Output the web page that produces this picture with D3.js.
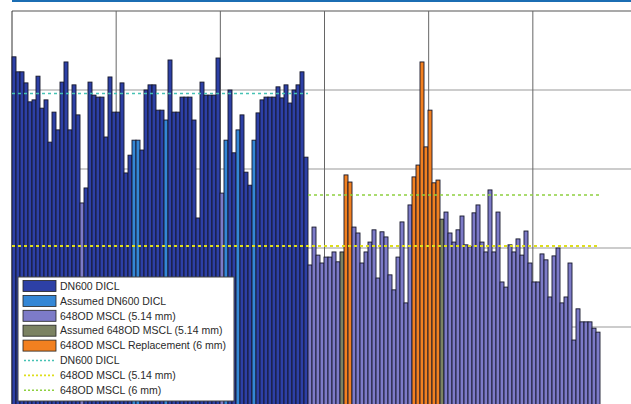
<!DOCTYPE html>
<html>
<head>
<meta charset="utf-8">
<script src="https://cdn.jsdelivr.net/npm/d3@7"></script>
<style>
  body { margin: 0; background: #fff; }
  svg { display: block; }
</style>
</head>
<body>
<div class="chart"></div>
<script>
// bar heights (one per pipe section)
const values = [
  88.4, 84.6, 84.6, 81.8, 77.0, 77.5, 83.5, 75.4, 77.5, 66.8,
  74.4, 69.9, 82.0, 87.1, 69.9, 81.3, 73.7, 51.4, 55.2, 82.0,
  78.7, 78.2, 78.2, 68.1, 83.3, 74.4, 74.4, 81.8, 59.0, 63.5,
  67.3, 67.3, 64.8, 80.0, 81.3, 81.3, 74.9, 74.9, 72.4, 87.6,
  74.4, 74.4, 78.2, 78.2, 78.2, 72.4, 47.6, 82.0, 78.7, 78.7,
  78.7, 88.1, 53.9, 67.3, 80.0, 64.1, 69.9, 73.7, 59.2, 55.9,
  67.3, 74.2, 77.5, 78.2, 78.2, 78.2, 80.8, 78.0, 81.3, 76.7,
  80.0, 81.3, 84.6, 63.0,
  35.7, 45.3, 38.2, 36.2, 37.7, 37.7, 39.0, 36.5, 39.0, 58.5,
  56.7, 45.3, 43.8, 36.2, 39.0, 41.5, 44.6, 32.4, 44.1, 42.8,
  33.2, 29.4, 37.7, 46.6, 26.1, 50.9, 58.0, 61.0, 87.1, 65.6,
  74.9, 56.5, 57.2, 47.3, 49.1, 43.8, 41.5, 44.6, 48.1, 40.8,
  40.3, 48.9, 50.9, 41.5, 39.0, 54.7, 39.0, 49.1, 31.4, 30.1,
  40.8, 39.0, 42.3, 38.2, 44.3, 36.2, 31.4, 31.4, 38.5, 37.0,
  27.6, 38.0, 40.0, 26.1, 27.6, 36.2, 16.7, 24.6, 21.3, 21.3,
  21.3, 19.7, 18.7
];

// pipe type of the bars, as runs of [code, count]
// D = DN600 DICL, A = assumed DN600, M = 648OD MSCL, G = assumed 648OD, R = replacement
const typeRuns = [
  ["D", 17], ["M", 1], ["D", 12], ["A", 2], ["D", 6], ["A", 1], ["D", 13],
  ["M", 1], ["A", 1], ["D", 2], ["A", 1], ["D", 3], ["A", 1], ["D", 13],
  ["M", 8], ["G", 1], ["R", 2], ["M", 15], ["R", 7], ["G", 1], ["M", 39]
];
const types = typeRuns.flatMap(([c, n]) => Array(n).fill(c));

const categories = ["DN600 DICL", "Assumed DN600 DICL", "648OD MSCL (5.14 mm)",
  "Assumed 648OD MSCL (5.14 mm)", "648OD MSCL Replacement (6 mm)"];
const codes = ["D", "A", "M", "G", "R"];
const colors = ["#2d40a6", "#3487d6", "#7d7bc8", "#7b8262", "#f28020"];

// limit lines
const limitNames = ["DN600 DICL", "648OD MSCL (5.14 mm)", "648OD MSCL (6 mm)"];
const limitValues = [79.1, 40.5, 53.4];
const limitFrom = [0, 0, 74];
const limitTo = [73, 146, 146];
const limitColors = ["#46c2b4", "#dede1c", "#8ed040"];

const width = 631, height = 404;
const plotLeft = 12, plotTop = 11, plotBottom = 406;

const svg = d3.select(".chart").append("svg")
  .attr("width", width)
  .attr("height", height);

const x = d3.scaleBand()
  .domain(d3.range(values.length))
  .range([plotLeft, 600])
  .padding(0);

const gridX = d3.scaleLinear().domain([0, 6]).range([plotLeft, 637]);

const y = d3.scaleLinear().domain([0, 100]).range([plotBottom, plotTop]);

const color = d3.scaleOrdinal().domain(codes).range(colors);

// page rule
svg.append("rect")
  .attr("x", plotLeft).attr("y", 0)
  .attr("width", width - plotLeft).attr("height", 2)
  .attr("fill", "#1b6db3");

// grid
svg.append("g")
  .selectAll("line")
  .data(y.ticks(5))
  .join("line")
  .attr("x1", plotLeft).attr("x2", width)
  .attr("y1", d => y(d)).attr("y2", d => y(d))
  .attr("stroke", d => d === 100 ? "#555" : "#999")
  .attr("stroke-width", 1.2);

svg.append("g")
  .selectAll("line")
  .data(gridX.ticks(6))
  .join("line")
  .attr("x1", d => gridX(d)).attr("x2", d => gridX(d))
  .attr("y1", plotTop).attr("y2", height)
  .attr("stroke", d => d === 0 ? "#333" : "#666")
  .attr("stroke-width", 1);

// bars
svg.append("g")
  .selectAll("rect")
  .data(values)
  .join("rect")
  .attr("x", (d, i) => x(i))
  .attr("y", d => y(d))
  .attr("width", x.bandwidth())
  .attr("height", d => y(0) - y(d))
  .attr("fill", (d, i) => color(types[i]))
  .attr("stroke", "#16172a")
  .attr("stroke-width", 0.9);

// limit lines
svg.append("g")
  .selectAll("line")
  .data(limitValues)
  .join("line")
  .attr("x1", (d, i) => x(limitFrom[i]))
  .attr("x2", (d, i) => x(limitTo[i]) + x.bandwidth())
  .attr("y1", d => y(d)).attr("y2", d => y(d))
  .attr("stroke", (d, i) => limitColors[i])
  .attr("stroke-width", (d, i) => i === 1 ? 2 : 1.4)
  .attr("stroke-dasharray", "3,3");

// legend
const lg = svg.append("g").attr("transform", "translate(18,277)");
lg.append("rect")
  .attr("width", 216).attr("height", 124)
  .attr("fill", "#fff")
  .attr("stroke", "#444")
  .attr("stroke-width", 1);

const rowY = i => 9 + i * 14.9;

categories.forEach((c, i) => {
  lg.append("rect")
    .attr("x", 5).attr("y", rowY(i) - 5.5)
    .attr("width", 33).attr("height", 11)
    .attr("fill", colors[i])
    .attr("stroke", "#222")
    .attr("stroke-width", 0.8);
  lg.append("text")
    .attr("x", 42).attr("y", rowY(i) + 3.7)
    .attr("font-family", "Liberation Sans, Arial, sans-serif")
    .attr("font-size", 10.5)
    .attr("fill", "#2a2a2a")
    .text(c);
});

limitNames.forEach((c, i) => {
  const r = categories.length + i;
  lg.append("line")
    .attr("x1", 6).attr("x2", 38)
    .attr("y1", rowY(r)).attr("y2", rowY(r))
    .attr("stroke", limitColors[i])
    .attr("stroke-width", 1.6)
    .attr("stroke-dasharray", "2,2");
  lg.append("text")
    .attr("x", 42).attr("y", rowY(r) + 3.7)
    .attr("font-family", "Liberation Sans, Arial, sans-serif")
    .attr("font-size", 10.5)
    .attr("fill", "#2a2a2a")
    .text(c);
});
</script>
</body>
</html>
